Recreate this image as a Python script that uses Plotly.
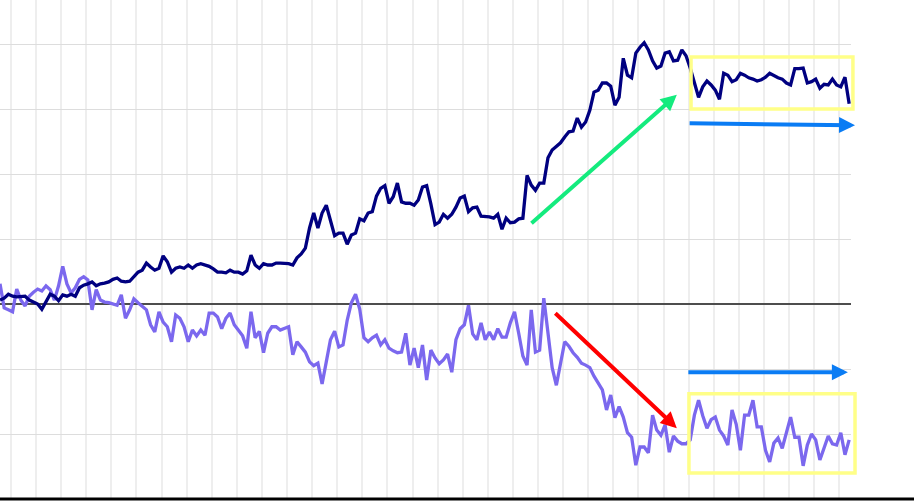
import plotly.graph_objects as go

# ---- data ----
navy = [0.6, 0.9, 1.5, 1.2, 1.1, 1.1, 1.2, 0.6, 0.3, 0.0,
        -0.8, 0.3, 1.5, 1.2, 0.5, 1.4, 1.2, 1.5, 1.2, 2.5,
        2.9, 3.1, 3.4, 2.8, 3.1, 3.2, 3.4, 3.8, 4.0, 3.5,
        3.4, 3.5, 4.3, 4.9, 5.2, 6.3, 5.7, 5.2, 5.5, 7.4,
        6.5, 4.9, 5.5, 5.7, 5.5, 6.0, 5.5, 6.0, 6.2, 6.0,
        5.8, 5.4, 4.9, 4.9, 4.8, 5.2, 4.9, 4.9, 4.6, 5.1,
        7.5, 6.0, 5.5, 6.2, 6.0, 6.0, 6.3, 6.3, 6.3, 6.2,
        6.0, 7.1, 7.7, 8.6, 11.7, 14.0, 11.7, 14.0, 15.2, 12.6,
        10.5, 10.9, 10.9, 9.2, 10.6, 10.9, 13.1, 12.8, 14.0, 14.2,
        16.6, 17.8, 18.2, 15.5, 16.5, 18.6, 15.7, 15.5, 15.5, 15.2,
        16.0, 18.0, 18.2, 15.4, 12.2, 12.6, 13.8, 13.2, 13.8, 14.9,
        16.3, 16.6, 14.2, 14.8, 14.9, 13.5, 13.5, 13.4, 13.2, 13.8,
        11.5, 13.2, 12.5, 12.6, 13.1, 13.2, 19.8, 18.3, 17.5, 18.6,
        18.6, 22.5, 23.7, 24.2, 24.8, 25.7, 26.5, 26.6, 28.6, 27.2,
        28.0, 29.8, 32.6, 32.9, 34.0, 34.0, 33.5, 30.6, 31.8, 37.8,
        35.2, 34.8, 38.6, 39.5, 40.2, 39.1, 37.4, 36.3, 36.6, 38.6,
        38.8, 37.4, 37.5, 39.1, 38.2, 36.3, 33.8, 31.8, 33.4, 34.3,
        33.7, 32.9, 31.5, 35.5, 35.2, 34.2, 34.5, 35.5, 35.2, 34.8,
        34.6, 34.3, 34.5, 34.9, 35.5, 35.1, 34.8, 34.6, 34.0, 33.7,
        36.2, 36.2, 36.3, 34.0, 34.2, 34.6, 33.2, 33.8, 33.7, 34.6,
        33.7, 33.4, 34.9, 30.8]

slate = [3.1, -0.6, -0.9, -1.2, 2.3, 0.6, -0.3, 1.2, 1.8, 2.3,
         2.0, 2.8, 2.2, 0.6, 2.8, 5.8, 3.1, 1.7, 2.5, 3.8,
         4.2, 3.7, -0.9, 2.2, 0.6, 0.3, 0.2, 0.0, -0.2, 1.4,
         -2.2, -0.9, 0.8, 0.2, -0.3, -0.9, -3.2, -4.3, -1.2, -2.8,
         -3.5, -5.8, -1.7, -2.2, -3.5, -5.8, -4.0, -4.9, -4.0, -4.8,
         -1.4, -1.4, -2.0, -3.8, -2.2, -1.4, -3.2, -4.0, -4.9, -6.8,
         -1.2, -5.2, -4.2, -7.5, -4.5, -3.5, -3.5, -4.0, -3.7, -3.5,
         -7.8, -5.8, -6.6, -7.4, -8.9, -9.5, -9.1, -12.3, -8.9, -5.5,
         -4.2, -6.6, -6.3, -2.5, 0.2, 1.5, -0.8, -5.2, -5.8, -5.2,
         -4.8, -6.3, -5.5, -6.8, -7.2, -7.5, -7.4, -4.5, -9.4, -6.8,
         -9.8, -6.3, -11.7, -7.1, -8.3, -9.2, -8.6, -7.7, -10.5, -5.5,
         -3.8, -3.2, -0.2, -4.6, -5.5, -2.9, -5.5, -4.3, -5.5, -3.8,
         -5.1, -5.1, -2.9, -1.2, -4.5, -8.0, -9.4, -0.9, -7.4, -7.1,
         0.9, -4.0, -9.8, -12.5, -8.9, -5.8, -6.5, -7.5, -8.2, -9.1,
         -9.4, -9.8, -11.1, -12.2, -13.2, -16.3, -14.0, -17.5, -15.8, -17.4,
         -19.8, -20.5, -24.8, -22.0, -22.0, -22.9, -17.1, -19.4, -20.2, -18.6,
         -22.8, -20.3, -21.1, -21.5, -21.5, -20.9, -17.1, -14.8, -17.2, -19.1,
         -17.8, -17.4, -19.4, -20.3, -21.7, -16.3, -18.5, -22.5, -17.1, -17.1,
         -14.8, -18.9, -18.9, -22.5, -24.3, -21.4, -20.6, -22.2, -19.7, -17.4,
         -20.5, -20.5, -24.9, -21.7, -20.0, -20.9, -24.0, -22.2, -20.3, -21.5,
         -21.7, -19.8, -23.2, -20.9]

steps = list(range(len(navy)))

# annotation geometry in data units (index, value)
arrows = [
    # (head_x, head_y, tail_x, tail_y, colour)
    (161.8, 32.2, 126.7, 12.2, "#14EB7E"),
    (161.8, -19.1, 132.4, -1.2, "#FF0000"),
    (204.4, 27.5, 164.5, 27.8, "#0A7CF4"),
    (202.7, -10.5, 164.2, -10.5, "#0A7CF4"),
]
boxes = [
    # (x0, x1, y0, y1)
    (165.2, 203.9, 30.0, 38.0),
    (164.7, 204.4, -26.0, -13.8),
]

X_RANGE = [0, 203.44]
Y_RANGE = [-30.0, 46.77]

fig = go.Figure()
fig.add_trace(go.Scatter(x=steps, y=slate, mode="lines",
                         line=dict(color="#7B68EE", width=3.3), hoverinfo="skip"))
fig.add_trace(go.Scatter(x=steps, y=navy, mode="lines",
                         line=dict(color="#000080", width=3.3), hoverinfo="skip"))

def to_paper(v):
    return (v - X_RANGE[0]) / (X_RANGE[1] - X_RANGE[0])

for (x0, x1, y0, y1) in boxes:
    fig.add_shape(type="rect", xref="paper", yref="y",
                  x0=to_paper(x0), x1=to_paper(x1), y0=y0, y1=y1,
                  line=dict(color="#FFFF88", width=3.5), fillcolor="rgba(0,0,0,0)")

for (hx, hy, tx, ty, col) in arrows:
    fig.add_annotation(x=hx, y=hy, ax=tx, ay=ty, xref="x", yref="y",
                       axref="x", ayref="y", text="", showarrow=True,
                       arrowhead=2, arrowsize=0.8, arrowwidth=4,
                       arrowcolor=col, standoff=0, startstandoff=0)

# black rule along the bottom edge of the page
fig.add_shape(type="line", xref="paper", yref="paper",
              x0=0, x1=914 / 851, y0=0, y1=0,
              line=dict(color="black", width=3))

fig.update_layout(
    width=914, height=501,
    margin=dict(l=0, r=63, t=0, b=2, pad=0),
    paper_bgcolor="white", plot_bgcolor="white",
    showlegend=False,
    xaxis=dict(range=X_RANGE, showticklabels=False, ticks="",
               showgrid=True, gridcolor="#eeeeee", gridwidth=2,
               tick0=2.63, dtick=6, zeroline=False, showline=False),
    yaxis=dict(range=Y_RANGE, showticklabels=False, ticks="",
               showgrid=True, gridcolor="#dddddd", gridwidth=1,
               tick0=0, dtick=10, zeroline=True, zerolinecolor="#4d4d4d",
               zerolinewidth=1.5, showline=False),
)

fig.write_html("out.html", include_plotlyjs=True, full_html=True,
               config={"displayModeBar": False},
               post_script="document.body.style.margin='0';document.body.style.overflow='hidden';")
